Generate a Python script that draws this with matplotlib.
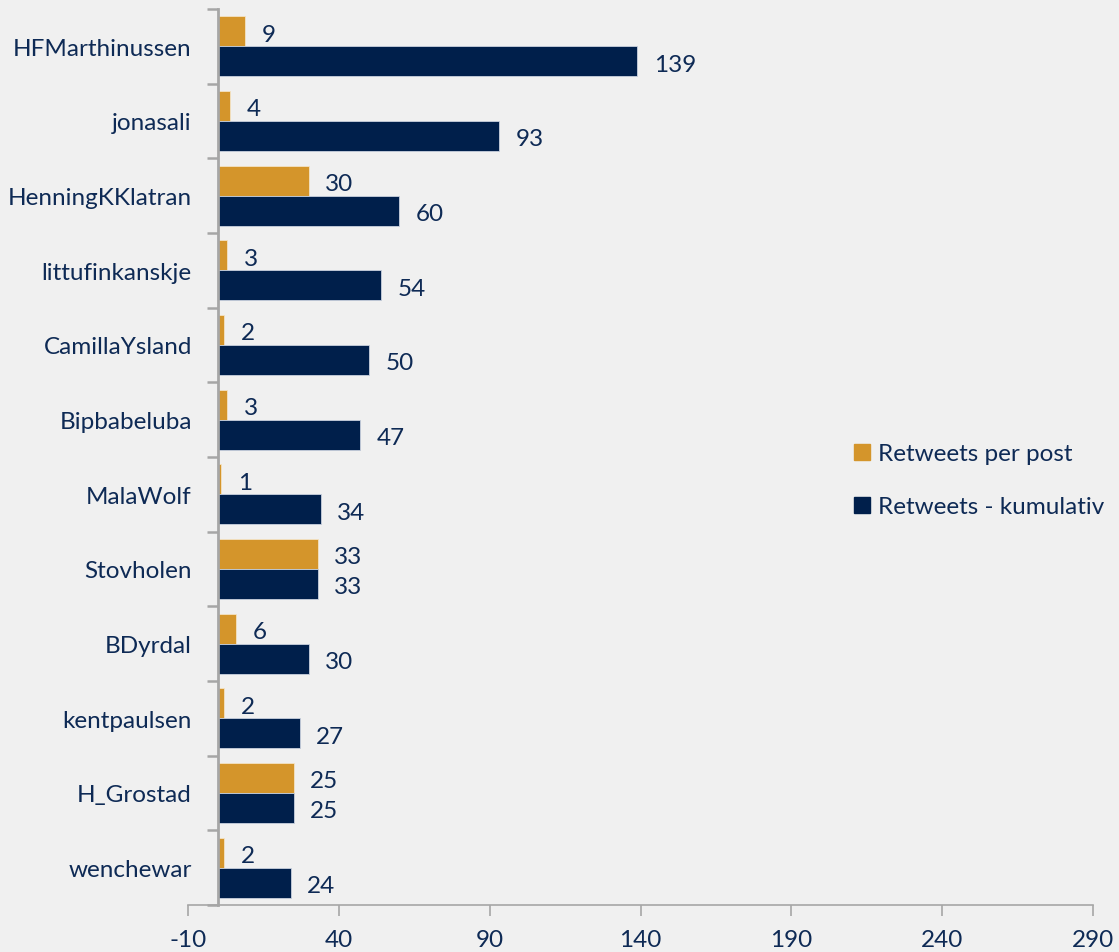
import matplotlib; matplotlib.use("Agg")
import matplotlib.pyplot as plt
import numpy as np
from matplotlib.lines import Line2D

users = ["HFMarthinussen", "jonasali", "HenningKKlatran", "littufinkanskje", "CamillaYsland",
         "Bipbabeluba", "MalaWolf", "Stovholen", "BDyrdal", "kentpaulsen", "H_Grostad", "wenchewar"]
per_post = [9, 4, 30, 3, 2, 3, 1, 33, 6, 2, 25, 2]
cumulative = [139, 93, 60, 54, 50, 47, 34, 33, 30, 27, 25, 24]
xticks = [-10, 40, 90, 140, 190, 240, 290]

ORANGE = "#D4952B"
NAVY = "#001F4B"
TXT = "#0E2A55"
BG = "#F0F0F0"
GRID = "#A6A6A6"
FS = 17.5

plt.rcParams["font.family"] = ["Lato", "DejaVu Sans"]
plt.rcParams["font.size"] = FS

fig = plt.figure(figsize=(11.19, 9.53), dpi=100, facecolor=BG)
ax = fig.add_axes([188/1119, 1-906/953, (1093-188)/1119, (906-10)/953])
ax.set_facecolor(BG)

y = np.arange(len(users))
h = 0.4
ax.barh(y - h/2, per_post, height=h, color=ORANGE, edgecolor="#F4E3C4", linewidth=0.6,
        label="Retweets per post", zorder=2)
ax.barh(y + h/2, cumulative, height=h, color=NAVY, edgecolor="#C9D1DE", linewidth=0.6,
        label="Retweets - kumulativ", zorder=2)

for yi, v in zip(y, per_post):
    ax.annotate(str(v), (v, yi - h/2), xytext=(12, -2), textcoords="offset points",
                ha="left", va="center", color=TXT, fontsize=FS)
for yi, v in zip(y, cumulative):
    ax.annotate(str(v), (v, yi + h/2), xytext=(12, -2), textcoords="offset points",
                ha="left", va="center", color=TXT, fontsize=FS)

ax.set_xlim(-10, 290)
ax.set_ylim(len(users) - 0.5, -0.5)
ax.set_xticks(xticks)
ax.set_xticklabels([str(t) for t in xticks])

ax.set_yticks(np.arange(-0.5, len(users), 1.0))
ax.set_yticklabels([])
ax.set_yticks(y, minor=True)
ax.set_yticklabels(users, minor=True)
ax.tick_params(axis="y", which="major", length=8, width=1.8, color=GRID, direction="out")
ax.tick_params(axis="y", which="minor", length=0, pad=19, labelcolor=TXT, labelsize=FS)
ax.tick_params(axis="x", length=8, width=1.2, color=GRID, direction="out", pad=9,
               labelcolor=TXT, labelsize=FS)

ax.spines["left"].set_position(("data", 0))
ax.spines["left"].set_color(GRID)
ax.spines["left"].set_linewidth(2)
ax.spines["bottom"].set_color(GRID)
ax.spines["bottom"].set_linewidth(1.2)
ax.spines["top"].set_visible(False)
ax.spines["right"].set_visible(False)

handles = [Line2D([0], [0], marker="s", color="none", markerfacecolor=ORANGE, markeredgecolor=ORANGE,
                  markersize=11, label="Retweets per post"),
           Line2D([0], [0], marker="s", color="none", markerfacecolor=NAVY, markeredgecolor=NAVY,
                  markersize=11, label="Retweets - kumulativ")]
leg = ax.legend(handles=handles, loc="center left", bbox_to_anchor=(0.713, 0.474), frameon=False,
                handlelength=0.6, handletextpad=0.35, labelspacing=1.3, fontsize=FS)
for t in leg.get_texts():
    t.set_color(TXT)

fig.savefig("out.png", dpi=100, facecolor=BG)
